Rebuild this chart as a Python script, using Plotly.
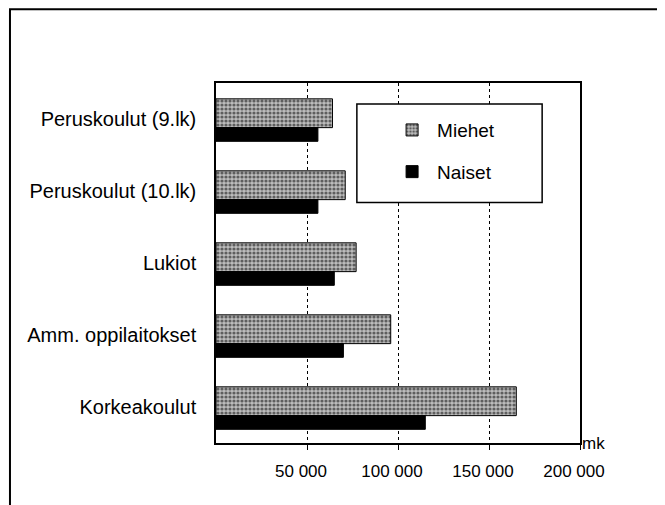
import plotly.graph_objects as go

# tulotaso koulutusasteen mukaan
oppilaitos = ["Peruskoulut (9.lk)", "Peruskoulut (10.lk)", "Lukiot",
              "Amm. oppilaitokset", "Korkeakoulut"]
miehet = [64000, 71000, 77000, 96000, 165000]
naiset = [56000, 56000, 65000, 70000, 115000]
tick_vals = [50000, 100000, 150000, 200000]
tick_text = ["50 000", "100 000", "150 000", "200 000"]

fig = go.Figure()
fig.add_trace(go.Bar(y=oppilaitos, x=miehet, name="Miehet", orientation="h",
                     width=0.40, offset=-0.28, legendgroup="m",
                     marker=dict(color="white", line=dict(color="black", width=1),
                                 pattern=dict(shape=".", size=4, solidity=0.5,
                                              fgcolor="black", bgcolor="#bdbdbd"))))
fig.add_trace(go.Bar(y=oppilaitos, x=naiset, name="Naiset", orientation="h",
                     width=0.19, offset=0.12, legendgroup="n",
                     marker=dict(color="black", line=dict(color="black", width=1))))

fig.update_layout(
    width=665, height=505,
    barmode="overlay",
    paper_bgcolor="white", plot_bgcolor="white",
    margin=dict(l=208, r=93, t=75, b=70),
    font=dict(family="Liberation Sans, Arial, sans-serif", color="black", size=17),
    legend=dict(x=0.470, y=0.922, xanchor="left", yanchor="top",
                borderwidth=0, bgcolor="rgba(0,0,0,0)",
                font=dict(size=19), tracegroupgap=14, itemwidth=40,
                traceorder="grouped"),
    xaxis=dict(range=[0, 200000], tickvals=tick_vals, ticktext=tick_text,
               showgrid=True, gridcolor="black", griddash="dot", gridwidth=1,
               ticks="outside", ticklen=5, tickcolor="black",
               showline=True, linecolor="black", linewidth=1.5, mirror=True,
               ticklabelshift=-6, ticklabelstandoff=7, zeroline=False),
    yaxis=dict(autorange="reversed", showline=True, linecolor="black",
               linewidth=1.5, mirror=True, ticks="", ticklabelstandoff=14,
               tickfont=dict(size=20)),
    annotations=[dict(text="mk", x=1.0, y=0, xref="paper", yref="paper",
                      xanchor="left", yanchor="middle", showarrow=False,
                      font=dict(size=17))],
    shapes=[dict(type="rect", xref="paper", yref="paper",
                 x0=-0.566, x1=1.225, y0=-0.25, y1=1.205,
                 line=dict(color="black", width=2), layer="below"),
            dict(type="rect", xref="paper", yref="paper",
                 x0=0.387, x1=0.896, y0=0.668, y1=0.942,
                 line=dict(color="black", width=1.5), fillcolor="white",
                 layer="above")],
)

fig.write_html("out.html")
